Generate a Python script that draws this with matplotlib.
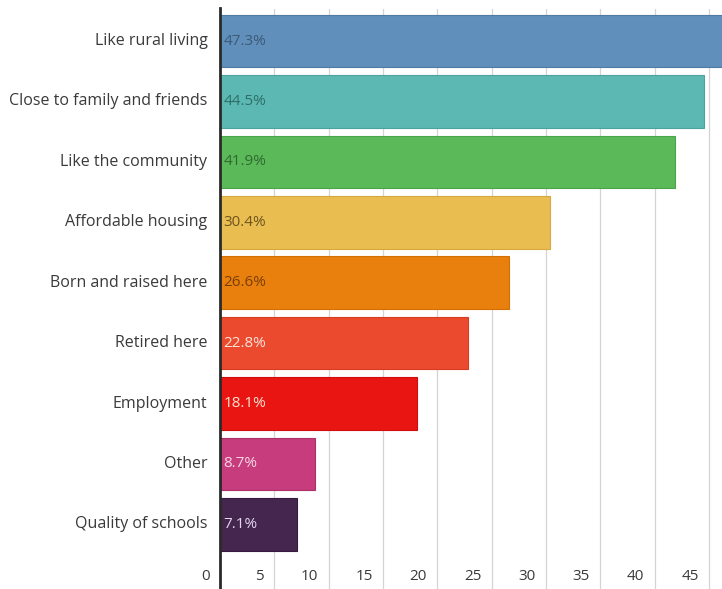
import matplotlib.pyplot as plt
from matplotlib import transforms

plt.rcParams['font.family'] = ['Open Sans', 'DejaVu Sans']

# Reasons for living in the area (% of respondents)
reasons = ['Like rural living', 'Close to family and friends', 'Like the community',
           'Affordable housing', 'Born and raised here', 'Retired here',
           'Employment', 'Other', 'Quality of schools']
percent = [47.3, 44.5, 41.9, 30.4, 26.6, 22.8, 18.1, 8.7, 7.1]
bar_colors = ['#5f8fba', '#5cb8b2', '#5bb95a', '#e9bd4f', '#e97f0c',
              '#ec4a2e', '#e91513', '#c63c7c', '#45264f']
edge_colors = ['#4f7ba3', '#4aa39d', '#4aa449', '#d6a83d', '#d26f06',
               '#d63c22', '#cf0f0e', '#ad3069', '#35193e']
label_colors = ['#3d5a78', '#2f6f6a', '#2f6a2e', '#6e5520', '#7a3f05',
                '#fbe3dc', '#fde2cf', '#f7d6e6', '#e3d6ee']
x_ticks = [0, 5, 10, 15, 20, 25, 30, 35, 40, 45]

fig = plt.figure(figsize=(7.22, 5.89), dpi=100)
ax = fig.add_axes([220 / 722, 0, 502 / 722, 1])

y = list(range(len(reasons)))
ax.barh(y, percent, height=0.87, color=bar_colors, edgecolor=edge_colors,
        linewidth=0.8, zorder=2)

ax.set_xlim(0, 46.2)
ax.set_ylim(9.07, -0.68)

# light vertical grid lines
for t in x_ticks[1:]:
    ax.plot([t, t], [9.07, -0.53], color='#d4d4d4', linewidth=0.9, zorder=1)

# value labels near the start of each bar
for i, (v, c) in enumerate(zip(percent, label_colors)):
    ax.text(0.3, i, f'{v}%', color=c, fontsize=11, va='center', ha='left', zorder=3)

# category labels left of the axis
lab_shift = transforms.ScaledTranslation(-9 / 72, 0, fig.dpi_scale_trans)
for i, name in enumerate(reasons):
    ax.text(0, i, name, transform=ax.transData + lab_shift, color='#3a3a3a',
            fontsize=11.5, va='center', ha='right', clip_on=False)

# x tick numbers sit just left of each grid line at the bottom
trans = transforms.blended_transform_factory(ax.transData, ax.transAxes)
shift = transforms.ScaledTranslation(-7.5 / 72, 0, fig.dpi_scale_trans)
for t in x_ticks:
    ax.text(t, 12 / 589, str(t), transform=trans + shift, color='#3a3a3a',
            fontsize=11, ha='right', va='center', clip_on=False)

ax.set_xticks([])
ax.set_yticks([])
for side in ['top', 'right', 'bottom']:
    ax.spines[side].set_visible(False)
ax.spines['left'].set_color('#2a2a2a')
ax.spines['left'].set_linewidth(2)
ax.spines['left'].set_bounds(9.07, -0.55)
ax.spines['left'].set_zorder(4)

fig.savefig('out.png', dpi=100)
